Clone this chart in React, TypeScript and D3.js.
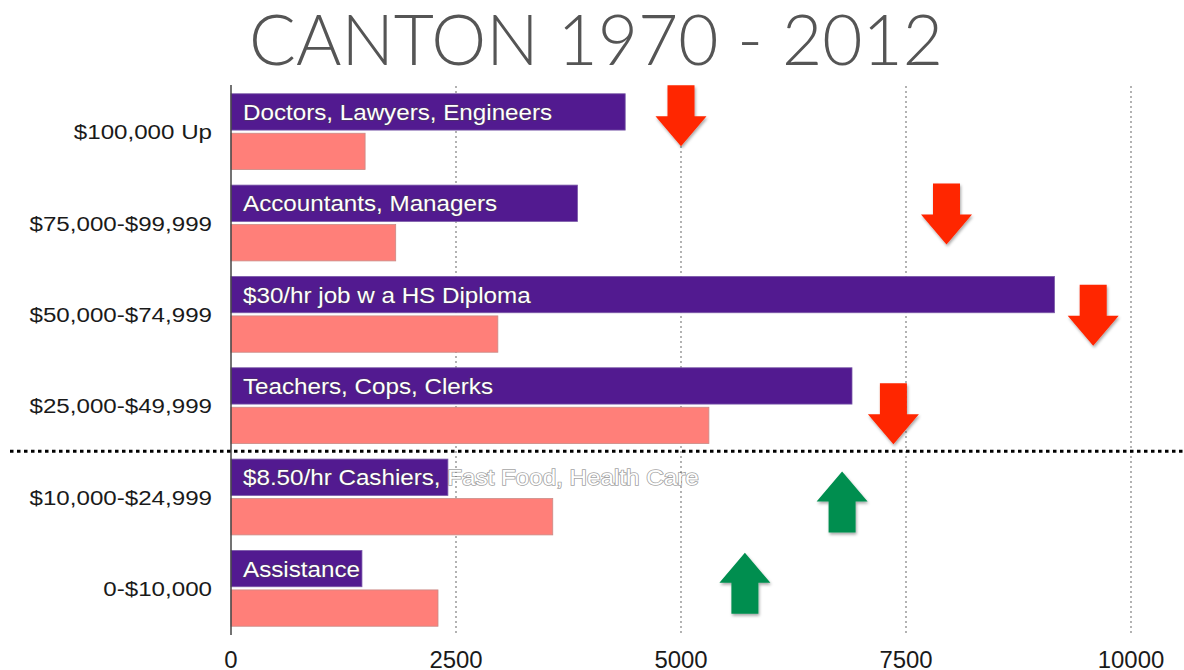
import React from "react";
import * as d3 from "d3";

const categories = [
  "$100,000 Up",
  "$75,000-$99,999",
  "$50,000-$74,999",
  "$25,000-$49,999",
  "$10,000-$24,999",
  "0-$10,000",
];
const series = ["1970", "2012"];
const values1970 = [4380, 3850, 9150, 6900, 2410, 1455];
const values2012 = [1490, 1830, 2965, 5310, 3575, 2300];
const barLabels = [
  "Doctors, Lawyers, Engineers",
  "Accountants, Managers",
  "$30/hr job w a HS Diploma",
  "Teachers, Cops, Clerks",
  "$8.50/hr Cashiers, Fast Food, Health Care",
  "Assistance",
];
const xTicks = [0, 2500, 5000, 7500, 10000];
// annotation arrows: category index, x value, direction, vertical offset from category centre
const arrowCats = [0, 1, 2, 3, 4, 5];
const arrowValues = [5000, 7950, 9580, 7360, 6790, 5710];
const arrowDirs = ["down", "down", "down", "down", "up", "up"];
const arrowOffsets = [-16, -9, 1, 8, 5, -5];

const W = 1184;
const H = 670;
const PURPLE = "#521a90";
const PINK = "#ff7f79";
const SX = 1.15;

export default function App() {
  const x = d3.scaleLinear().domain([0, 10000]).range([231, 1131]);
  const y = d3
    .scaleBand<string>()
    .domain(categories)
    .range([86, 634])
    .paddingInner(0.17)
    .paddingOuter(0.085);
  const sub = d3
    .scaleBand<string>()
    .domain(series)
    .range([0, y.bandwidth()])
    .paddingInner(0.08);
  const vals = [values1970, values2012];
  const sepY =
    ((y(categories[3]) as number) + y.bandwidth() + (y(categories[4]) as number)) / 2;

  const arrowPath = (cx: number, cy: number, dir: string) => {
    const hw = 25.5, sw = 13.5, h = 61, hh = 30;
    const p = d3.path();
    if (dir === "down") {
      const top = cy - h / 2;
      p.moveTo(cx - sw, top);
      p.lineTo(cx + sw, top);
      p.lineTo(cx + sw, top + h - hh);
      p.lineTo(cx + hw, top + h - hh);
      p.lineTo(cx, top + h);
      p.lineTo(cx - hw, top + h - hh);
      p.lineTo(cx - sw, top + h - hh);
      p.closePath();
    } else {
      const bot = cy + h / 2;
      p.moveTo(cx - sw, bot);
      p.lineTo(cx + sw, bot);
      p.lineTo(cx + sw, bot - h + hh);
      p.lineTo(cx + hw, bot - h + hh);
      p.lineTo(cx, bot - h);
      p.lineTo(cx - hw, bot - h + hh);
      p.lineTo(cx - sw, bot - h + hh);
      p.closePath();
    }
    return p.toString();
  };

  const font = "Helvetica, Arial, 'Liberation Sans', sans-serif";

  return (
    <div style={{ position: "absolute", left: 0, top: 0 }}>
      <svg width={W} height={H} style={{ display: "block", background: "#fff" }}>
        <defs>
          <filter id="shadow" x="-30%" y="-30%" width="160%" height="160%">
            <feDropShadow dx="1" dy="2" stdDeviation="1.5" floodColor="#000" floodOpacity="0.35" />
          </filter>
        </defs>
        <text
          x={596}
          y={65}
          textAnchor="middle"
          fontFamily="Lato, 'Noto Sans', 'Open Sans', sans-serif"
          fontWeight={300}
          fontSize={71}
          fill="#555"
          textLength={694}
          lengthAdjust="spacingAndGlyphs"
        >
          CANTON 1970 - 2012
        </text>

        {/* grid */}
        {xTicks.slice(1).map((t) => (
          <line
            key={t}
            x1={x(t)}
            x2={x(t)}
            y1={86}
            y2={634}
            stroke="#8a8a8a"
            strokeWidth={1.3}
            strokeDasharray="2,3"
          />
        ))}

        {/* bars */}
        {categories.map((c, i) => (
          <g key={c} transform={`translate(0,${y(c)})`}>
            {series.map((s, j) => (
              <rect
                key={s}
                x={x(0)}
                y={sub(s)}
                width={x(vals[j][i]) - x(0)}
                height={sub.bandwidth()}
                fill={j === 0 ? PURPLE : PINK}
                stroke={j === 0 ? "#7a5aa8" : "#c98a86"}
                strokeWidth={0.8}
              />
            ))}
          </g>
        ))}

        {/* bar labels */}
        {categories.map((c, i) => (
          <text
            key={c}
            transform={`translate(${x(0) + 12},${(y(c) as number) + (sub("1970") as number) + sub.bandwidth() / 2 + 8}) scale(1.1,1)`}
            fontFamily={font}
            fontSize={22}
            fill="#fff"
            stroke="rgba(70,70,70,0.5)"
            strokeWidth={1.6}
            style={{ paintOrder: "stroke" }}
          >
            {barLabels[i]}
          </text>
        ))}

        {/* category labels */}
        {categories.map((c) => (
          <text
            key={c}
            transform={`translate(212,${(y(c) as number) + y.bandwidth() / 2 + 7.5}) scale(${SX},1)`}
            textAnchor="end"
            fontFamily={font}
            fontSize={21}
            fill="#1a1a1a"
          >
            {c}
          </text>
        ))}

        {/* y axis line */}
        <line x1={x(0)} x2={x(0)} y1={85} y2={635} stroke="#444" strokeWidth={1.5} />

        {/* x tick labels */}
        {xTicks.map((t) => (
          <text
            key={t}
            transform={`translate(${x(t)},668) scale(1.04,1)`}
            textAnchor="middle"
            fontFamily={font}
            fontSize={23}
            fill="#1a1a1a"
          >
            {t}
          </text>
        ))}

        {/* separator */}
        <line
          x1={10}
          x2={W}
          y1={sepY}
          y2={sepY}
          stroke="#000"
          strokeWidth={3}
          strokeDasharray="3.5,3.5"
        />

        {/* arrows */}
        {arrowCats.map((ci, k) => {
          const cy = (y(categories[ci]) as number) + y.bandwidth() / 2 + arrowOffsets[k];
          return (
            <path
              key={k}
              d={arrowPath(x(arrowValues[k]), cy, arrowDirs[k])}
              fill={arrowDirs[k] === "down" ? "#ff2600" : "#008e50"}
              filter="url(#shadow)"
            />
          );
        })}
      </svg>
    </div>
  );
}
